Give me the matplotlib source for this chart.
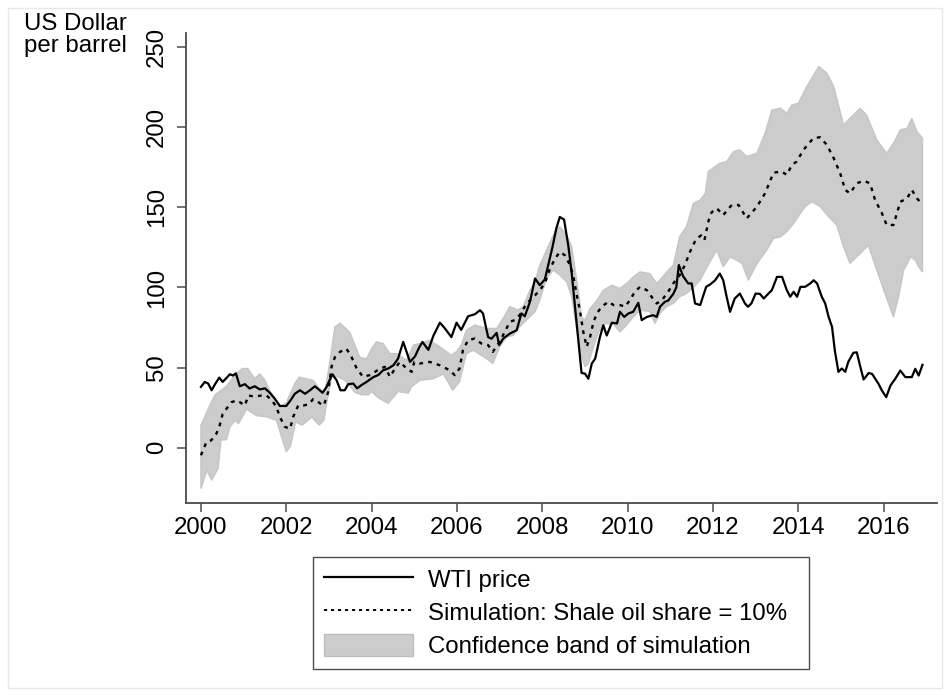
import matplotlib
matplotlib.use("Agg")
import matplotlib.pyplot as plt
import numpy as np
from matplotlib.patches import Rectangle, Patch
from matplotlib.lines import Line2D

plt.rcParams['font.family'] = ['Liberation Sans', 'DejaVu Sans']

# WTI price (decimal year, US$ per barrel)
wti_t = [2000.0, 2000.09, 2000.17, 2000.25, 2000.34, 2000.43, 2000.51, 2000.68, 2000.75, 2000.82,
         2000.91, 2001.03, 2001.14, 2001.26, 2001.38, 2001.5, 2001.62, 2001.73, 2001.85, 2002.0,
         2002.1, 2002.2, 2002.32, 2002.44, 2002.57, 2002.67, 2002.77, 2002.85, 2002.94, 2003.08,
         2003.18, 2003.27, 2003.37, 2003.45, 2003.57, 2003.66, 2003.76, 2003.88, 2004.04, 2004.16,
         2004.27, 2004.39, 2004.51, 2004.62, 2004.74, 2004.9, 2005.02, 2005.11, 2005.19, 2005.33,
         2005.45, 2005.6, 2005.7, 2005.87, 2005.99, 2006.1, 2006.26, 2006.42, 2006.54, 2006.61,
         2006.73, 2006.81, 2006.93, 2006.99, 2007.08, 2007.24, 2007.4, 2007.51, 2007.59, 2007.71,
         2007.83, 2007.94, 2008.06, 2008.14, 2008.24, 2008.33, 2008.41, 2008.51, 2008.61, 2008.69,
         2008.76, 2008.84, 2008.92, 2009.0, 2009.08, 2009.16, 2009.24, 2009.35, 2009.43, 2009.51,
         2009.63, 2009.75, 2009.82, 2009.92, 2010.02, 2010.13, 2010.25, 2010.33, 2010.45, 2010.6,
         2010.68, 2010.76, 2010.87, 2010.95, 2011.07, 2011.14, 2011.2, 2011.3, 2011.42, 2011.5,
         2011.58, 2011.7, 2011.84, 2011.94, 2012.05, 2012.16, 2012.24, 2012.32, 2012.4, 2012.51,
         2012.63, 2012.75, 2012.82, 2012.9, 2013.0, 2013.1, 2013.19, 2013.3, 2013.38, 2013.5,
         2013.62, 2013.73, 2013.81, 2013.89, 2013.97, 2014.05, 2014.16, 2014.28, 2014.36, 2014.44,
         2014.55, 2014.63, 2014.71, 2014.79, 2014.86, 2014.94, 2015.02, 2015.1, 2015.17, 2015.29,
         2015.37, 2015.45, 2015.53, 2015.65, 2015.73, 2015.88, 2015.96, 2016.06, 2016.16, 2016.27,
         2016.39, 2016.51, 2016.66, 2016.74, 2016.82, 2016.91]
wti = [37.9, 41, 40, 35.8, 40, 43.7, 41, 45.8, 45, 46.4,
       38.3, 39.6, 36.9, 38.3, 36.3, 37, 34.1, 30.6, 26, 26,
       29.5, 33.6, 35.8, 33.6, 36.1, 38.3, 36.1, 34.2, 37.7, 45.8,
       42, 35.8, 35.8, 39.6, 40, 37, 39, 41, 44, 45.4,
       48.3, 49.4, 51.4, 55.6, 66, 53.5, 57.1, 62.3, 66, 61,
       70, 78, 75, 69, 78, 73.5, 82, 83.3, 85.8, 83.8,
       69, 68, 71.6, 64, 68, 71.2, 73.3, 83.8, 82, 91,
       105.6, 101.4, 105, 114, 125.4, 137, 144, 142.4, 126, 108.7,
       90, 69, 46.6, 46.2, 43, 52.5, 55.6, 69, 76.4, 70,
       78, 77.5, 84.8, 81.6, 83.8, 84.8, 90.4, 79.6, 81.6, 82.7,
       81.6, 88, 91, 91.8, 96, 100, 114, 107, 102.5, 102.5,
       90, 89, 100.4, 102, 104.5, 108.7, 104.5, 94.2, 84.8, 93.1,
       96.2, 90, 87.9, 90, 96.2, 96, 93.1, 96.2, 98.3, 106.6,
       106.6, 98.3, 94.2, 97.3, 94.2, 100.4, 100.4, 102.5, 104.5, 102.5,
       94.2, 90, 81.6, 75.4, 59.8, 47.3, 49.4, 47.3, 53.5, 59.2,
       59.5, 50.8, 42.5, 46.6, 46, 39.8, 35.6, 31.5, 38.8, 42.9,
       48.1, 44, 44, 49.2, 45, 51.7]

# simulated price, shale oil share = 10%
sim_t = [2000.0, 2000.13, 2000.24, 2000.36, 2000.44, 2000.51, 2000.6, 2000.72, 2000.84, 2000.91,
         2001.03, 2001.11, 2001.26, 2001.42, 2001.54, 2001.66, 2001.77, 2001.85, 2001.97, 2002.09,
         2002.16, 2002.28, 2002.4, 2002.52, 2002.63, 2002.71, 2002.79, 2002.88, 2002.98, 2003.06,
         2003.14, 2003.26, 2003.41, 2003.53, 2003.65, 2003.8, 2003.96, 2004.08, 2004.2, 2004.31,
         2004.43, 2004.55, 2004.66, 2004.82, 2004.94, 2005.0, 2005.13, 2005.36, 2005.6, 2005.83,
         2005.95, 2006.06, 2006.14, 2006.26, 2006.42, 2006.57, 2006.73, 2006.84, 2007.0, 2007.12,
         2007.24, 2007.35, 2007.47, 2007.59, 2007.71, 2007.83, 2007.94, 2008.06, 2008.18, 2008.3,
         2008.41, 2008.53, 2008.65, 2008.73, 2008.8, 2008.88, 2008.96, 2009.04, 2009.12, 2009.2,
         2009.28, 2009.39, 2009.55, 2009.67, 2009.82, 2009.94, 2010.05, 2010.17, 2010.29, 2010.45,
         2010.56, 2010.68, 2010.8, 2010.95, 2011.07, 2011.22, 2011.34, 2011.46, 2011.6, 2011.72,
         2011.8, 2011.9, 2011.97, 2012.09, 2012.24, 2012.44, 2012.6, 2012.79, 2013.03, 2013.22,
         2013.42, 2013.61, 2013.73, 2013.85, 2013.96, 2014.12, 2014.35, 2014.51, 2014.67, 2014.83,
         2014.98, 2015.1, 2015.21, 2015.37, 2015.53, 2015.68, 2015.8, 2015.96, 2016.07, 2016.23,
         2016.39, 2016.55, 2016.66, 2016.78, 2016.9]
sim = [-4.8, 3.5, 4.5, 8.6, 13.9, 21, 24.3, 28.4, 29.5, 28.4,
       26.3, 32.5, 31.9, 32.5, 32.5, 29.5, 25.4, 19.1, 12.9, 11.8,
       19.1, 26.3, 26.3, 27, 30.2, 29.5, 27.6, 26.3, 34.5, 50.4,
       56.5, 59.8, 61.8, 56.5, 49.4, 44.2, 45.3, 47.3, 49.4, 50.4,
       44.2, 49.4, 53.5, 49.4, 47.3, 53.5, 52.5, 53.5, 51.4, 48.3,
       45.2, 49.4, 60.8, 67.1, 68.1, 65, 64, 59.8, 66, 72.3,
       78.5, 79.6, 82.7, 88, 92, 95.1, 98.3, 102.5, 111.8, 118,
       122.2, 120.1, 113.9, 106.6, 96.2, 85.8, 72.3, 62.9, 69.1, 78.5,
       83.8, 88, 91.1, 89, 89, 88, 92, 97.3, 100.4, 98.3,
       94.2, 90, 92, 97.3, 102.5, 107.7, 113.9, 122.2, 130, 132.5,
       129.6, 142, 147, 149.4, 145.2, 151.5, 151.5, 143.1, 150.4, 158.8,
       171.7, 172.4, 170.3, 176.5, 178.6, 185.9, 193.2, 193.8, 189, 180.7,
       171.3, 160.9, 158.8, 165, 166.7, 165, 154.6, 146.3, 139, 139,
       153.5, 155.6, 160.9, 155.6, 152.1]

# confidence band, upper edge
up_t = [2000.0, 2000.2, 2000.33, 2000.6, 2000.8, 2000.97, 2001.1, 2001.26, 2001.38, 2001.5,
        2001.62, 2001.85, 2002.0, 2002.2, 2002.3, 2002.63, 2002.77, 2002.9, 2003.0, 2003.14,
        2003.26, 2003.49, 2003.72, 2003.88, 2004.0, 2004.11, 2004.27, 2004.43, 2004.59, 2004.82,
        2004.98, 2005.13, 2005.36, 2005.6, 2005.87, 2005.99, 2006.1, 2006.22, 2006.42, 2006.69,
        2006.93, 2007.08, 2007.24, 2007.43, 2007.55, 2007.71, 2007.83, 2007.94, 2008.1, 2008.33,
        2008.41, 2008.57, 2008.69, 2008.76, 2008.84, 2008.92, 2009.0, 2009.12, 2009.28, 2009.43,
        2009.63, 2009.82, 2010.02, 2010.13, 2010.29, 2010.52, 2010.68, 2010.8, 2010.95, 2011.07,
        2011.22, 2011.38, 2011.54, 2011.7, 2011.82, 2011.89, 2012.16, 2012.32, 2012.48, 2012.63,
        2012.79, 2013.03, 2013.22, 2013.38, 2013.58, 2013.73, 2013.85, 2014.0, 2014.2, 2014.48,
        2014.67, 2014.83, 2015.06, 2015.25, 2015.45, 2015.6, 2015.84, 2016.07, 2016.23, 2016.39,
        2016.55, 2016.66, 2016.78, 2016.91]
band_up = [13.9, 26, 33, 38.3, 45.6, 49.4, 49.4, 43, 46, 42,
           35, 25.4, 28, 40, 44, 42, 37, 34, 50, 75.4,
           77.7, 72, 56.4, 55.5, 61.8, 66, 65, 58.7, 58.7, 54.5,
           64, 65, 67, 62.9, 57.7, 60, 63.9, 73.3, 76.5, 74.4,
           74.4, 80.6, 88, 86, 88, 98.3, 103.5, 113.9, 123.3, 136.9,
           137.9, 132.8, 125.4, 112.8, 98.3, 81.6, 79.6, 86.9, 92, 98.3,
           101.4, 99.4, 103.5, 106.6, 109.7, 108.7, 102.5, 106, 110.7, 113.9,
           131.8, 138, 152.5, 154.6, 158.8, 172.4, 177.6, 178.6, 184.9, 185.9,
           181.8, 183.8, 196.3, 210.8, 211.9, 208.8, 214, 215, 225.5, 238,
           233.8, 225.5, 201.5, 206.7, 211.9, 207.7, 192.1, 183.8, 190, 198.4,
           199.4, 205.6, 197.3, 193.2]

# confidence band, lower edge
lo_t = [2000.0, 2000.14, 2000.25, 2000.4, 2000.47, 2000.6, 2000.68, 2000.8, 2000.88, 2001.07,
        2001.3, 2001.54, 2001.77, 2002.0, 2002.1, 2002.22, 2002.37, 2002.6, 2002.77, 2002.88,
        2002.96, 2003.07, 2003.23, 2003.38, 2003.61, 2003.77, 2003.93, 2004.0, 2004.16, 2004.39,
        2004.62, 2004.86, 2004.94, 2005.13, 2005.45, 2005.68, 2005.9, 2006.06, 2006.22, 2006.38,
        2006.69, 2006.84, 2007.0, 2007.16, 2007.32, 2007.47, 2007.63, 2007.83, 2007.94, 2008.1,
        2008.26, 2008.41, 2008.57, 2008.69, 2008.76, 2008.84, 2008.92, 2009.0, 2009.08, 2009.2,
        2009.32, 2009.47, 2009.67, 2009.82, 2009.94, 2010.13, 2010.29, 2010.52, 2010.64, 2010.76,
        2010.91, 2011.07, 2011.22, 2011.38, 2011.54, 2011.7, 2011.82, 2011.93, 2012.09, 2012.24,
        2012.4, 2012.55, 2012.68, 2012.83, 2013.03, 2013.26, 2013.42, 2013.58, 2013.73, 2013.89,
        2014.05, 2014.16, 2014.32, 2014.51, 2014.71, 2014.9, 2015.06, 2015.21, 2015.45, 2015.64,
        2015.84, 2016.03, 2016.23, 2016.35, 2016.47, 2016.63, 2016.74, 2016.82, 2016.91]
band_lo = [-25.6, -14.2, -20.4, -13.1, 4.6, 5, 12.9, 17, 15, 24,
           20, 19.2, 17, -2.7, 1, 16, 14, 19, 14, 17,
           29.5, 45.4, 44, 42, 34.4, 33, 33, 35, 31, 27.6,
           35, 34, 38, 42, 43, 46, 35.8, 41, 58.7, 60.8,
           55.6, 52.5, 62.9, 69, 70, 75.4, 79.6, 84.8, 92, 105.6,
           110.8, 107.7, 103.5, 94.2, 81.6, 69, 57.7, 50.4, 52.5, 62.9,
           72.3, 77.5, 77, 72.3, 75.4, 81.6, 85.8, 85, 77.5, 83.8,
           88, 90, 94.2, 96.2, 100, 104.5, 110.8, 116, 123.3, 112.9,
           119.1, 117.1, 115, 104.5, 114.9, 123.3, 130.6, 131.6, 134.8, 140,
           146.3, 150.5, 153.6, 150.5, 144.2, 139, 125.4, 115, 121.2, 126.4,
           110.8, 96.2, 81.6, 94.2, 110.8, 119.1, 117.1, 112.9, 109.7]

year_ticks = list(range(2000, 2017, 2))
price_ticks = [0, 50, 100, 150, 200, 250]

fs = 17.3
fig = plt.figure(figsize=(9.5, 6.96), dpi=100)
ax = fig.add_axes([186 / 950, 1 - 503 / 696, (937 - 186) / 950, (503 - 33) / 696])

band_x = np.concatenate([up_t, lo_t[::-1]])
band_y = np.concatenate([band_up, band_lo[::-1]])
ax.fill(band_x, band_y, facecolor='#cccccc', edgecolor='#c6c6c6', lw=1, zorder=1)

ax.plot(wti_t, wti, color='black', lw=1.6, zorder=3)
ax.plot(sim_t, sim, color='black', lw=1.7, linestyle=(0, (1.6, 2.2)), zorder=4)

ax.set_xlim(1999.65, 2017.25)
ax.set_ylim(-34.6, 258.9)
ax.set_xticks(year_ticks)
ax.set_yticks(price_ticks)
for s in ['top', 'right']:
    ax.spines[s].set_visible(False)
for s in ['left', 'bottom']:
    ax.spines[s].set_color('#4a4a4a')
    ax.spines[s].set_linewidth(1.3)
ax.tick_params(axis='both', length=6.5, width=1.1, color='#4a4a4a', labelsize=fs)
ax.tick_params(axis='x', pad=3.5)
ax.tick_params(axis='y', pad=6.5, labelrotation=90)
for lab in ax.get_yticklabels():
    lab.set_va('center')

fig.text(24 / 950, 1 - 13 / 696, 'US Dollar\nper barrel', fontsize=fs,
         va='top', ha='left', linespacing=1.0)

handles = [Line2D([], [], color='black', lw=1.6),
           Line2D([], [], color='black', lw=1.4, linestyle=(0, (1.6, 2.0))),
           Patch(facecolor='#cccccc', edgecolor='#bdbdbd')]
labels = ['WTI price', 'Simulation: Shale oil share = 10%', 'Confidence band of simulation']
leg_h = 112 / 696
leg = fig.legend(handles, labels, loc='upper left', mode='expand',
                 bbox_to_anchor=(313 / 950, 1 - 557 / 696 - leg_h, 496 / 950, leg_h),
                 fontsize=fs, frameon=True, fancybox=False, handlelength=3.7,
                 handleheight=1.05, handletextpad=0.65, labelspacing=0.36,
                 borderpad=0.45, borderaxespad=0)
leg.get_frame().set_edgecolor('#222222')
leg.get_frame().set_linewidth(1.0)

fig.patches.append(Rectangle((8 / 950, 8 / 696), 934 / 950, 680 / 696, transform=fig.transFigure,
                             fill=False, edgecolor='#e8e8e8', lw=1))

fig.savefig('out.png', dpi=100)
